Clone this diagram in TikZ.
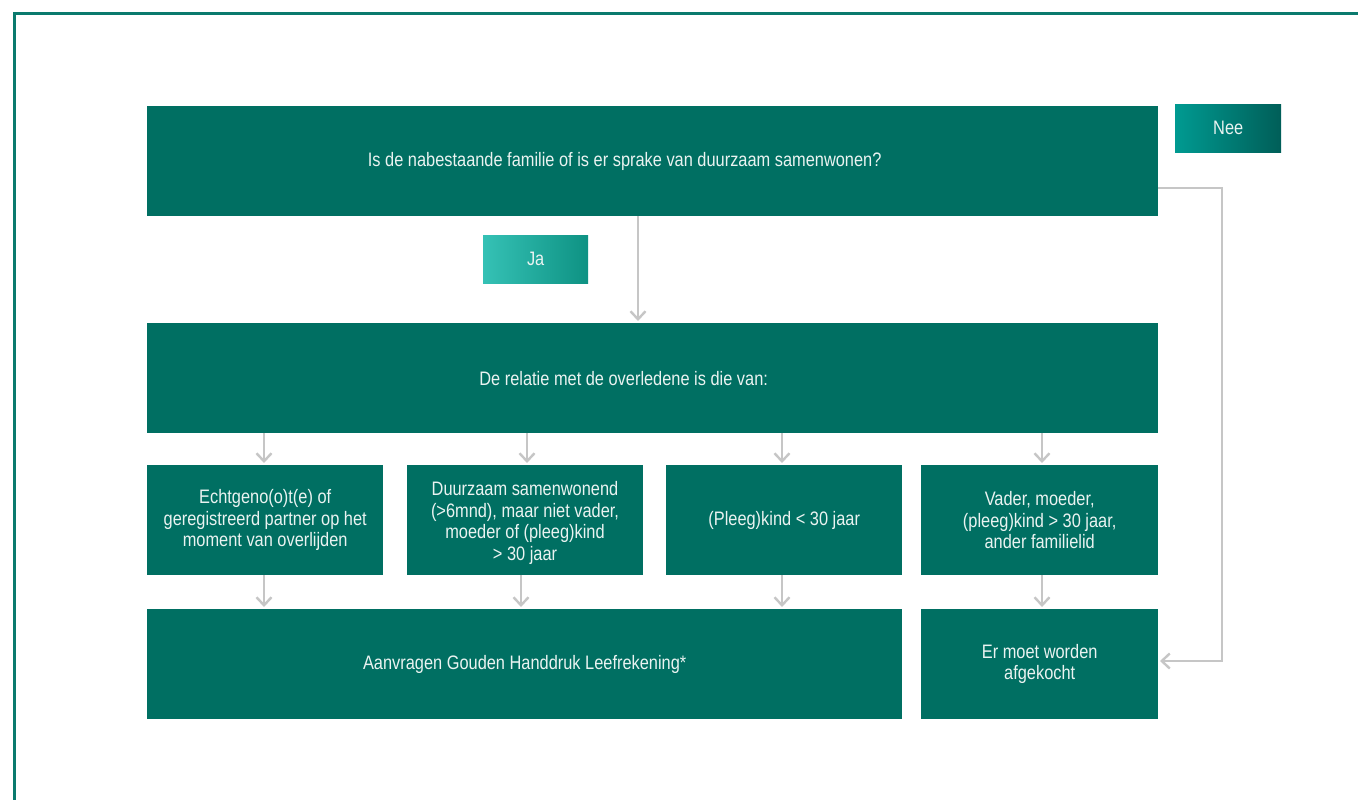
\documentclass[tikz,border=0pt]{standalone}
\usepackage{fontspec}
\setmainfont[FakeStretch=0.84]{Liberation Sans}
\usetikzlibrary{arrows.meta,positioning}
\definecolor{teal1}{HTML}{006F62}
\definecolor{bordc}{HTML}{0B7A6E}
\definecolor{neeL}{HTML}{009A91}
\definecolor{neeR}{HTML}{005E58}
\definecolor{jaL}{HTML}{35C1B5}
\definecolor{jaR}{HTML}{0E9283}
\definecolor{arr}{HTML}{C6C6C6}
\definecolor{txt}{HTML}{EAF3F1}
\begin{document}
\begin{tikzpicture}[x=1pt,y=-1pt,
  box/.style={fill=teal1,text=txt,draw=none,align=center,inner sep=0pt,
    font=\fontsize{19.5}{21.5}\selectfont},
  conn/.style={draw=arr,line width=2.7pt,-{Straight Barb[length=8pt,width=15pt,line width=2.4pt]}}]
\useasboundingbox (0,0) rectangle (1358,800);
\fill[white] (0,0) rectangle (1358,800);
\draw[bordc,line width=3pt] (14,801) -- (14,14) -- (1359,14);

% main boxes
\node[box,minimum width=1011pt,minimum height=110pt,anchor=north west] (q) at (147,106)
  {\hspace*{-56pt}Is de nabestaande familie of is er sprake van duurzaam samenwonen?};
\node[box,minimum width=1011pt,minimum height=110pt,anchor=north west] (rel) at (147,323)
  {\hspace*{-58pt}De relatie met de overledene is die van:};
\node[box,minimum width=236pt,minimum height=110pt,anchor=north west] (b1) at (147,465)
  {Echtgeno(o)t(e) of\\geregistreerd partner op het\\moment van overlijden};
\fill[teal1] (407,465) rectangle (643,575);
\node[box,fill=none,minimum width=236pt,minimum height=104pt,anchor=center] (b2) at (525,523)
  {Duurzaam samenwonend\\(>6mnd), maar niet vader,\\moeder of (pleeg)kind\\> 30 jaar};
\node[box,minimum width=236pt,minimum height=110pt,anchor=north west] (b3) at (666,465)
  {(Pleeg)kind < 30 jaar};
\node[box,minimum width=237pt,minimum height=110pt,anchor=north west] (b4) at (921,465)
  {Vader, moeder,\\(pleeg)kind > 30 jaar,\\ander familielid};
\node[box,minimum width=755pt,minimum height=110pt,anchor=north west] (aan) at (147,609)
  {Aanvragen Gouden Handdruk Leefrekening*};
\node[box,minimum width=237pt,minimum height=110pt,anchor=north west] (er) at (921,609)
  {Er moet worden\\afgekocht};

% labels
\node[box,left color=neeL,right color=neeR,minimum width=106pt,minimum height=48pt,anchor=north west] (nee) at (1175,104) {Nee};
\node[box,left color=jaL,right color=jaR,minimum width=105pt,minimum height=48pt,anchor=north west] (ja) at (483,235) {Ja};

% coordinates
\coordinate (qs) at (638,216);
\coordinate (rn) at (638,321);
\coordinate (qr) at (1158,188);
\coordinate (c1) at (1222,188);
\coordinate (c2) at (1222,661);
\coordinate (ee) at (1160,661);

\draw[conn] (qs) -- (rn);
\foreach \xa in {264,527,782,1042}{
  \draw[conn] (\xa,433) -- (\xa,463);
}
\foreach \xa in {264,521,782,1042}{
  \draw[conn] (\xa,575) -- (\xa,607);
}
\draw[conn] (qr) -- (c1) -- (c2) -- (ee);
\end{tikzpicture}
\end{document}
